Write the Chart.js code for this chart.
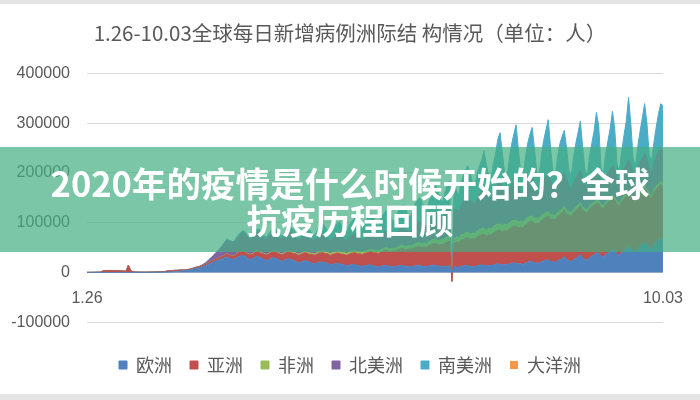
<!DOCTYPE html>
<html lang="zh-CN">
<head>
<meta charset="utf-8">
<title>1.26-10.03全球每日新增病例洲际结构情况</title>
<script src="https://cdn.jsdelivr.net/npm/chart.js@4.4.1/dist/chart.umd.min.js"></script>
<style>
  html, body { margin: 0; padding: 0; background: #fff; }
  #wrap { position: relative; width: 700px; height: 400px; overflow: hidden; }
  #wrap canvas { position: absolute; left: 0; top: 0; }
  .bar { position: absolute; left: 0; width: 700px; background: #e4e4e4; }
  #banner {
    position: absolute; left: 0; top: 147px; width: 700px; height: 105px;
    box-sizing: border-box; padding-top: 17px;
    background: rgba(68, 174, 131, 0.7);
    color: #fff; text-align: center;
    font-family: "Noto Sans CJK SC", sans-serif; font-weight: bold;
    font-size: 34.5px; line-height: 37px;
  }
</style>
</head>
<body>
<div id="wrap">
  <canvas id="chart" width="700" height="400"></canvas>
  <div class="bar" style="top:0;height:4px"></div>
  <div class="bar" style="top:394px;height:6px"></div>
  <div id="banner">2020年的疫情是什么时候开始的？全球<br>抗疫历程回顾</div>
</div>
<script>
// daily new cases, in thousands, one row per week (first day of the row in the comment)
const europe = [
  0, 0, 0, 0, 0, 0, 0,                        // 1.26
  0, 0, 0, 0, 0, 0, 0,                        // 2.02
  0, 0, 0, 0, 0, 0, 0,                        // 2.09
  0, 0, 0, 0, 0, 0, 0.1,                      // 2.16
  0.1, 0.2, 0.3, 0.4, 0.5, 0.6, 0.7,          // 2.23
  0.9, 1, 1.2, 1.5, 1.7, 2.2, 2.6,            // 3.01
  3.1, 3.6, 4.2, 5, 6.1, 7.4, 8.3,            // 3.08
  9.2, 10.5, 12.4, 14.1, 16.6, 18.2, 20.5,    // 3.15
  22.4, 23.8, 26.1, 27.3, 29.6, 31.2, 28.4,   // 3.22
  27.1, 26.3, 29.2, 31.5, 33.4, 34.1, 32.2,   // 3.29
  28.5, 26.1, 27.4, 30.2, 32.3, 31.1, 28.2,   // 4.05
  26.4, 24.1, 25.3, 27.6, 30.1, 28.3, 27.2,   // 4.12
  24.2, 22.1, 24.5, 26.3, 27.4, 25.2, 24.1,   // 4.19
  22.3, 19.2, 20.4, 22.1, 23.5, 22.2, 20.3,   // 4.26
  19.1, 17.4, 18.2, 20.3, 21.1, 20.2, 19.4,   // 5.03
  18.2, 15.1, 16.3, 17.4, 18.2, 17.1, 16.4,   // 5.10
  15.2, 13.3, 14.1, 15.4, 16.2, 15.1, 14.3,   // 5.17
  13.1, 12.2, 13.4, 14.1, 15.2, 14.3, 13.1,   // 5.24
  12.3, 11.1, 12.4, 13.2, 14.1, 13.4, 12.2,   // 5.31
  12.1, 11.2, 12.3, 13.4, 14.2, 13.1, 12.4,   // 6.07
  12.2, 11.4, 12.1, 13.3, 14.2, 14.1, 12.3,   // 6.14
  12.4, 11.2, 13.1, 14.2, 14.4, 14.1, 13.2,   // 6.21
  12.1, 11.3, 12.2, 13.1, 13.4, 0, 11.2,      // 6.28
  11.1, 10.2, 12.3, 13.1, 14.2, 13.4, 12.1,   // 7.05
  12.3, 11.1, 13.2, 14.4, 15.1, 14.2, 13.3,   // 7.12
  14.2, 13.1, 15.3, 16.2, 17.4, 16.1, 15.2,   // 7.19
  16.1, 15.2, 17.3, 18.4, 19.2, 18.1, 17.3,   // 7.26
  17.2, 16.1, 18.4, 20.3, 22.6, 21.2, 19.1,   // 8.02
  19.3, 18.2, 21.4, 23.1, 24.3, 25.2, 22.4,   // 8.09
  21.2, 20.1, 23.4, 25.2, 27.3, 32.1, 25.4,   // 8.16
  23.4, 21.2, 26.1, 28.3, 31.2, 36.4, 29.1,   // 8.23
  26.2, 24.1, 30.3, 32.2, 35.4, 38.1, 40.2,   // 8.30
  32.1, 30.2, 36.4, 38.2, 42.1, 46.3, 44.2,   // 9.06
  36.4, 34.2, 40.1, 44.3, 48.2, 52.1, 50.3,   // 9.13
  44.1, 40.3, 48.2, 52.4, 56.1, 60.2, 58.1,   // 9.20
  50.2, 45.1, 55.3, 60.2, 64.1, 68.3, 65.2    // 9.27
];
const asia = [
  0.1, 0.1, 0.2, 0.2, 0.3, 0.4, 0.6,
  3, 3.5, 3.6, 3.8, 3.8, 3.5, 3.2,
  3.1, 3, 2.6, 2.2, 14, 4.1, 1.2,
  0.8, 0.6, 0.5, 0.4, 0.5, 0.4, 0.5,
  0.5, 0.6, 0.7, 0.6, 0.8, 0.9, 1,
  2, 2.4, 2.2, 2.5, 2.3, 2.2, 2,
  1.5, 1.3, 1.2, 1.4, 1.5, 1.6, 1.8,
  2, 2.2, 2.5, 2.8, 3, 3.2, 3.5,
  3.5, 4, 4.5, 5, 5.5, 5.5, 6,
  6, 6.5, 7, 7.5, 8, 8, 8.5,
  8.5, 9, 9, 9.5, 10, 10, 10,
  10.5, 11, 11, 12, 12, 12.5, 12,
  13, 13, 13.5, 14, 14, 14.5, 14,
  15, 15, 15.5, 16, 16, 16.5, 16,
  17, 17, 18, 18, 18.5, 19, 18,
  19, 19, 20, 20, 21, 21, 20,
  21, 21, 22, 23, 23, 24, 23,
  24, 24, 25, 25, 26, 27, 26,
  27, 27, 28, 29, 30, 30, 29,
  31, 31, 32, 33, 34, 34, 33,
  35, 35, 36, 37, 38, 38, 37,
  39, 39, 41, 42, 43, 44, 42,
  44, 45, 47, 48, 49, -18, 48,
  50, 50, 52, 53, 55, 56, 54,
  56, 56, 58, 60, 61, 62, 60,
  62, 62, 64, 66, 67, 68, 66,
  68, 68, 70, 72, 74, 75, 73,
  74, 74, 77, 79, 80, 82, 79,
  80, 80, 83, 85, 86, 88, 85,
  86, 86, 89, 91, 92, 94, 91,
  92, 91, 94, 96, 97, 98, 96,
  96, 95, 98, 100, 100, 101, 99,
  99, 97, 100, 102, 103, 104, 101,
  101, 99, 102, 104, 105, 106, 103,
  103, 101, 104, 106, 107, 108, 105,
  104, 102, 105, 107, 108, 109, 106
];
const africa = [
  0, 0, 0, 0, 0, 0, 0,
  0, 0, 0, 0, 0, 0, 0,
  0, 0, 0, 0, 0, 0, 0,
  0, 0, 0, 0, 0, 0, 0,
  0, 0, 0, 0, 0, 0, 0,
  0, 0, 0, 0, 0, 0, 0,
  0, 0, 0, 0, 0, 0, 0,
  0.1, 0.1, 0.2, 0.2, 0.2, 0.3, 0.3,
  0.3, 0.4, 0.4, 0.5, 0.5, 0.6, 0.6,
  0.6, 0.7, 0.7, 0.8, 0.9, 0.9, 0.9,
  1, 1, 1.1, 1.1, 1.2, 1.2, 1.2,
  1.3, 1.3, 1.4, 1.5, 1.5, 1.6, 1.6,
  1.7, 1.7, 1.8, 1.9, 2, 2.1, 2.1,
  2.2, 2.2, 2.3, 2.5, 2.5, 2.6, 2.6,
  2.7, 2.8, 2.9, 3.1, 3, 3.2, 3.2,
  3.3, 3.3, 3.5, 3.6, 3.6, 3.8, 3.7,
  3.8, 3.9, 4.1, 4.2, 4.2, 4.4, 4.3,
  4.4, 4.5, 4.7, 4.8, 4.8, 5, 5,
  5, 5.2, 5.4, 5.5, 5.5, 5.7, 5.7,
  5.8, 6, 6.2, 6.3, 6.4, 6.6, 6.6,
  6.7, 6.9, 7.1, 7.3, 7.4, 7.6, 7.7,
  7.8, 8, 8.3, 8.5, 8.6, 8.9, 9,
  9, 9.2, 9.5, 9.7, 9.8, 0, 10,
  10, 10.2, 10.5, 10.7, 10.8, 11.1, 11,
  11, 11.2, 11.5, 11.7, 11.8, 12.1, 12,
  12, 12.2, 12.5, 12.7, 12.8, 13.1, 13,
  12.8, 12.6, 12.5, 12.3, 12, 11.9, 11.6,
  11.4, 11.2, 11.1, 10.9, 10.6, 10.5, 10.2,
  10, 9.8, 9.7, 9.5, 9.2, 9.1, 8.8,
  8.6, 8.4, 8.3, 8.1, 7.8, 7.7, 7.4,
  7.2, 7, 6.9, 6.7, 6.4, 6.3, 6,
  6, 5.9, 5.9, 5.8, 5.6, 5.6, 5.4,
  5.3, 5.2, 5.2, 5.1, 5, 5.1, 5,
  5, 4.9, 5, 5.1, 5, 5.1, 5,
  5, 4.9, 5, 5.2, 5.2, 5.4, 5.4,
  5.5, 5.4, 5.7, 5.9, 5.9, 6.1, 6
];
const northAmerica = [
  0, 0, 0, 0, 0, 0, 0,
  0, 0, 0, 0, 0, 0, 0,
  0, 0, 0, 0, 0, 0, 0,
  0, 0, 0, 0, 0, 0, 0,
  0, 0, 0, 0, 0, 0, 0,
  0, 0, 0, 0.1, 0.1, 0.1, 0.2,
  0.2, 0.3, 0.4, 0.5, 0.5, 0.7, 0.9,
  1, 1.5, 2, 3, 5, 7, 9,
  12, 14, 17, 20, 24, 28, 28,
  27, 26, 30, 33, 35, 38, 36,
  33, 30, 34, 37, 38, 40, 35,
  32, 29, 33, 36, 38, 40, 37,
  31, 30, 33, 35, 38, 40, 38,
  30, 28, 30, 33, 35, 37, 35,
  28, 26, 29, 32, 34, 35, 33,
  27, 25, 28, 31, 33, 35, 32,
  27, 25, 28, 31, 33, 35, 32,
  26, 24, 27, 30, 32, 34, 31,
  26, 25, 28, 31, 33, 35, 32,
  27, 26, 30, 33, 35, 37, 34,
  30, 29, 33, 37, 40, 43, 40,
  36, 35, 40, 45, 50, 54, 50,
  45, 44, 50, 56, 60, 0, 58,
  55, 52, 60, 66, 70, 74, 68,
  62, 58, 66, 72, 76, 80, 74,
  66, 60, 70, 76, 80, 84, 76,
  64, 58, 68, 74, 78, 82, 75,
  60, 55, 64, 70, 74, 78, 72,
  58, 53, 62, 68, 72, 75, 70,
  54, 50, 58, 63, 66, 68, 64,
  50, 46, 54, 58, 62, 64, 60,
  48, 44, 52, 56, 60, 62, 60,
  46, 42, 50, 55, 58, 60, 57,
  46, 42, 50, 56, 60, 64, 60,
  48, 44, 52, 58, 62, 66, 62,
  50, 46, 54, 60, 64, 68, 66
];
const southAmerica = [
  0, 0, 0, 0, 0, 0, 0,
  0, 0, 0, 0, 0, 0, 0,
  0, 0, 0, 0, 0, 0, 0,
  0, 0, 0, 0, 0, 0, 0,
  0, 0, 0, 0, 0, 0, 0,
  0, 0, 0, 0, 0, 0, 0,
  0, 0, 0, 0, 0.1, 0.1, 0.1,
  0.2, 0.2, 0.3, 0.3, 0.4, 0.5, 0.6,
  0.8, 1, 1, 1.2, 1.5, 1.8, 2,
  2, 2, 2.5, 3, 3, 3.5, 3.5,
  3, 3, 4, 4, 4.5, 5, 5,
  5, 5, 5.5, 6, 6.5, 7, 7,
  6, 6, 7, 8, 8.5, 9, 9,
  9, 8, 10, 11, 12, 13, 12,
  12, 11, 13, 16, 18, 19, 17,
  16, 14, 18, 21, 23, 25, 22,
  20, 18, 23, 27, 30, 32, 29,
  25, 22, 28, 33, 36, 38, 34,
  28, 24, 32, 37, 40, 42, 38,
  30, 26, 35, 40, 43, 45, 40,
  32, 28, 38, 43, 46, 48, 44,
  34, 30, 40, 46, 50, 54, 48,
  36, 32, 42, 48, 52, 0, 50,
  38, 34, 45, 52, 56, 60, 54,
  40, 36, 50, 56, 62, 77, 58,
  42, 38, 56, 66, 90, 100, 70,
  40, 36, 60, 80, 95, 110, 70,
  38, 34, 58, 78, 90, 100, 68,
  36, 32, 58, 80, 95, 110, 66,
  34, 30, 52, 70, 80, 84, 62,
  32, 28, 50, 70, 85, 100, 60,
  30, 26, 48, 66, 84, 115, 90,
  28, 24, 46, 64, 82, 109, 80,
  28, 24, 46, 66, 86, 125, 80,
  28, 24, 44, 62, 80, 100, 70,
  28, 24, 40, 58, 76, 88, 92
];
const oceania = [
  0, 0, 0, 0, 0, 0, 0,
  0, 0, 0, 0, 0, 0, 0,
  0, 0, 0, 0, 0, 0, 0,
  0, 0, 0, 0, 0, 0, 0,
  0, 0, 0, 0, 0, 0, 0,
  0, 0, 0, 0, 0, 0, 0,
  0, 0, 0, 0, 0, 0.1, 0.1,
  0.1, 0.1, 0.1, 0.2, 0.2, 0.3, 0.3,
  0.3, 0.4, 0.4, 0.5, 0.4, 0.4, 0.5,
  0.3, 0.3, 0.3, 0.3, 0.2, 0.2, 0.2,
  0.2, 0.1, 0.1, 0.1, 0.1, 0.1, 0.1,
  0.1, 0, 0, 0.1, 0, 0, 0,
  0, 0, 0, 0, 0, 0, 0,
  0, 0, 0, 0, 0, 0, 0,
  0, 0, 0, 0, 0, 0, 0,
  0, 0, 0, 0, 0, 0, 0,
  0, 0, 0, 0, 0, 0, 0,
  0, 0, 0, 0, 0, 0, 0,
  0, 0, 0, 0, 0, 0, 0,
  0, 0, 0, 0, 0, 0, 0,
  0, 0, 0, 0, 0, 0, 0,
  0.1, 0.1, 0.1, 0.1, 0.1, 0.1, 0.1,
  0.1, 0.1, 0.1, 0.2, 0.2, 0, 0.2,
  0.2, 0.2, 0.2, 0.3, 0.3, 0.3, 0.3,
  0.3, 0.4, 0.4, 0.4, 0.4, 0.5, 0.5,
  0.4, 0.5, 0.5, 0.6, 0.6, 0.6, 0.5,
  0.5, 0.6, 0.6, 0.7, 0.7, 0.7, 0.6,
  0.6, 0.6, 0.6, 0.7, 0.6, 0.6, 0.5,
  0.4, 0.4, 0.4, 0.4, 0.3, 0.4, 0.3,
  0.3, 0.3, 0.3, 0.3, 0.3, 0.2, 0.2,
  0.2, 0.2, 0.2, 0.2, 0.2, 0.2, 0.1,
  0.1, 0.1, 0.1, 0.1, 0.1, 0.1, 0.1,
  0.1, 0.1, 0.1, 0.1, 0.1, 0.1, 0.1,
  0.1, 0.1, 0.1, 0.1, 0.1, 0.1, 0.1,
  0.1, 0.1, 0.1, 0.1, 0.1, 0.1, 0.1,
  0.1, 0.1, 0.1, 0.1, 0.1, 0.1, 0.1
];

const seriesNames = ['欧洲', '亚洲', '非洲', '北美洲', '南美洲', '大洋洲'];
const seriesColors = ['#4F81BD', '#C0504D', '#9BBB59', '#8064A2', '#4BACC6', '#F79646'];
const tickLabels = ['1.26', '10.03'];
const yTicks = [-100000, 0, 100000, 200000, 300000, 400000];
const title = '1.26-10.03全球每日新增病例洲际结 构情况（单位：人）';

// one category per day, 1.26 .. 10.03 (2020 is a leap year)
const monthLengths = [31, 29, 31, 30, 31, 30, 31, 31, 30, 31];
const days = [];
for (let m = 1, d = 26; !(m === 10 && d > 3); ) {
  days.push(m + '.' + String(d).padStart(2, '0'));
  d++;
  if (d > monthLengths[m - 1]) { m++; d = 1; }
}

const gray = '#595959';
const cjk = '"Noto Sans CJK SC", sans-serif';
const latin = '"Liberation Sans", Arial, sans-serif';

const allSeries = [europe, asia, africa, northAmerica, southAmerica, oceania];
const datasets = allSeries.map((values, i) => ({
  label: seriesNames[i],
  data: values.map(v => v * 1000),
  backgroundColor: seriesColors[i],
  borderColor: seriesColors[i],
  borderWidth: i === 5 ? 0 : 1,
  pointRadius: 0,
  pointHoverRadius: 0,
  tension: 0,
  fill: i === 0 ? 'origin' : '-1'
}));

new Chart(document.getElementById('chart'), {
  type: 'line',
  data: { labels: days, datasets: datasets },
  options: {
    responsive: false,
    animation: false,
    layout: { padding: { left: 0, right: 0, top: 0, bottom: 16 } },
    plugins: {
      title: {
        display: true,
        text: title,
        color: gray,
        font: { family: cjk, size: 20.5, weight: 'normal' },
        padding: { top: 21, bottom: 28 }
      },
      legend: {
        position: 'bottom',
        labels: {
          boxWidth: 8,
          boxHeight: 8,
          padding: 18,
          color: gray,
          font: { family: cjk, size: 18 }
        }
      },
      tooltip: { enabled: false }
    },
    scales: {
      x: {
        position: { y: 0 },
        grid: { display: false, drawTicks: false },
        border: { color: '#D0D0D0' },
        ticks: {
          autoSkip: false,
          maxRotation: 0,
          padding: 17,
          color: gray,
          font: { family: latin, size: 16 },
          callback: function (value) {
            const label = this.getLabelForValue(value);
            return tickLabels.includes(label) ? label : '';
          }
        }
      },
      y: {
        stacked: 'single',
        min: -132000,  // leaves room under the -100000 line for the legend
        max: 400000,
        afterBuildTicks: scale => { scale.ticks = yTicks.map(v => ({ value: v })); },
        afterFit: scale => { scale.width = 87; },
        grid: { color: '#D9D9D9', drawTicks: false },
        border: { display: false },
        ticks: {
          padding: 17,
          color: gray,
          font: { family: latin, size: 16 },
          callback: value => String(value)
        }
      },
      // empty right-hand axis: only reserves the blank strip right of the plot
      yRight: {
        position: 'right',
        grid: { display: false },
        border: { display: false },
        ticks: { display: false },
        afterFit: scale => { scale.width = 37; }
      }
    }
  }
});
</script>
</body>
</html>
